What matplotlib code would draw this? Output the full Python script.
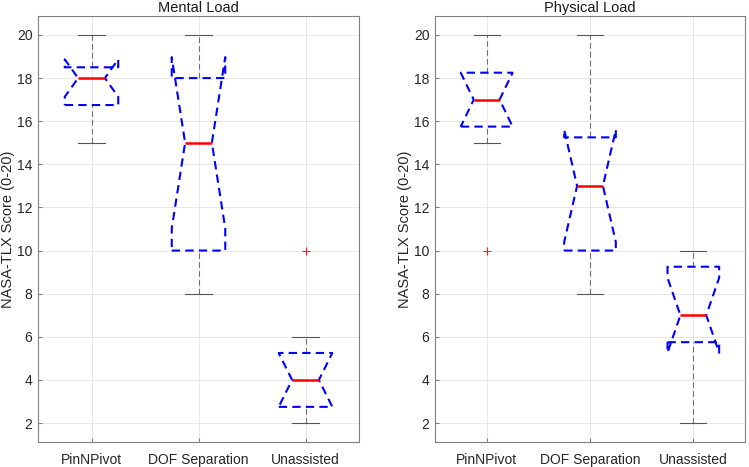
import numpy as np
import matplotlib
matplotlib.use("Agg")
import matplotlib.pyplot as plt

plt.rcParams['font.family'] = ['Liberation Sans', 'DejaVu Sans']

categories = ["PinNPivot", "DOF Separation", "Unassisted"]
n_obs = 10

# Mental Load
mental_q1 = [16.75, 10.0, 2.75]
mental_med = [18.0, 15.0, 4.0]
mental_q3 = [18.5, 18.0, 5.25]
mental_wlo = [15.0, 8.0, 2.0]
mental_whi = [20.0, 20.0, 6.0]
mental_out = [[], [], [10.0]]

# Physical Load
phys_q1 = [15.75, 10.0, 5.75]
phys_med = [17.0, 13.0, 7.0]
phys_q3 = [18.25, 15.25, 9.25]
phys_wlo = [15.0, 8.0, 2.0]
phys_whi = [20.0, 20.0, 10.0]
phys_out = [[10.0], [], []]

yticks = [2, 4, 6, 8, 10, 12, 14, 16, 18, 20]

BOX_BLUE = '#0000ff'
W = 0.25   # half box width
W2 = 0.125  # half notch / cap width


def draw(ax, q1, med, q3, wlo, whi, outs, title):
    for i in range(len(categories)):
        x = i + 1
        iqr = q3[i] - q1[i]
        half = 1.57 * iqr / np.sqrt(n_obs)
        nlo, nhi = med[i] - half, med[i] + half
        # whiskers
        ax.plot([x, x], [q3[i], whi[i]], color='#707070', lw=0.8, ls=(0, (5, 3)), zorder=2)
        ax.plot([x, x], [wlo[i], q1[i]], color='#707070', lw=0.8, ls=(0, (5, 3)), zorder=2)
        ax.plot([x - W2, x + W2], [whi[i], whi[i]], color='#555555', lw=0.8, zorder=2)
        ax.plot([x - W2, x + W2], [wlo[i], wlo[i]], color='#555555', lw=0.8, zorder=2)
        # notched box
        xs = [x - W, x + W, x + W, x + W2, x + W, x + W, x - W, x - W, x - W2, x - W, x - W]
        ys = [q1[i], q1[i], nlo, med[i], nhi, q3[i], q3[i], nhi, med[i], nlo, q1[i]]
        ax.plot(xs, ys, color=BOX_BLUE, lw=1.5, ls=(0, (4, 2.5)), zorder=3)
        # median
        ax.plot([x - W2, x + W2], [med[i], med[i]], color='#ff0000', lw=1.8, zorder=4,
                solid_capstyle='butt')
        if outs[i]:
            ax.plot([x] * len(outs[i]), outs[i], ls='none', marker='+', color='#ff2020',
                    ms=6, mew=0.8, zorder=5)
    ax.set_xlim(0.5, 3.5)
    ax.set_ylim(1.12, 20.88)
    ax.set_xticks([1, 2, 3])
    ax.set_xticklabels(categories)
    ax.set_yticks(yticks)
    ax.grid(True, color='#e3e3e3', lw=0.6)
    ax.set_axisbelow(True)
    ax.tick_params(direction='in', length=3, color='#808080', labelsize=10,
                   labelcolor='#262626', top=False, right=False)
    ax.tick_params(axis='x', pad=8)
    ax.tick_params(axis='y', pad=4)
    for s in ax.spines.values():
        s.set_color('#808080')
        s.set_linewidth(0.8)
    ax.set_title(title, fontsize=10.5, color='#1a1a1a', pad=3)
    ax.set_ylabel('NASA-TLX Score (0-20)', fontsize=10.5, color='#262626', labelpad=1)


fig = plt.figure(figsize=(7.49, 4.67), dpi=100)
ax1 = fig.add_axes([38 / 749, 1 - 442 / 467, (359 - 38) / 749, (442 - 16) / 467])
ax2 = fig.add_axes([435 / 749, 1 - 442 / 467, (745 - 435) / 749, (442 - 16) / 467])
draw(ax1, mental_q1, mental_med, mental_q3, mental_wlo, mental_whi, mental_out, 'Mental Load')
draw(ax2, phys_q1, phys_med, phys_q3, phys_wlo, phys_whi, phys_out, 'Physical Load')
fig.savefig('out.png', dpi=100)
